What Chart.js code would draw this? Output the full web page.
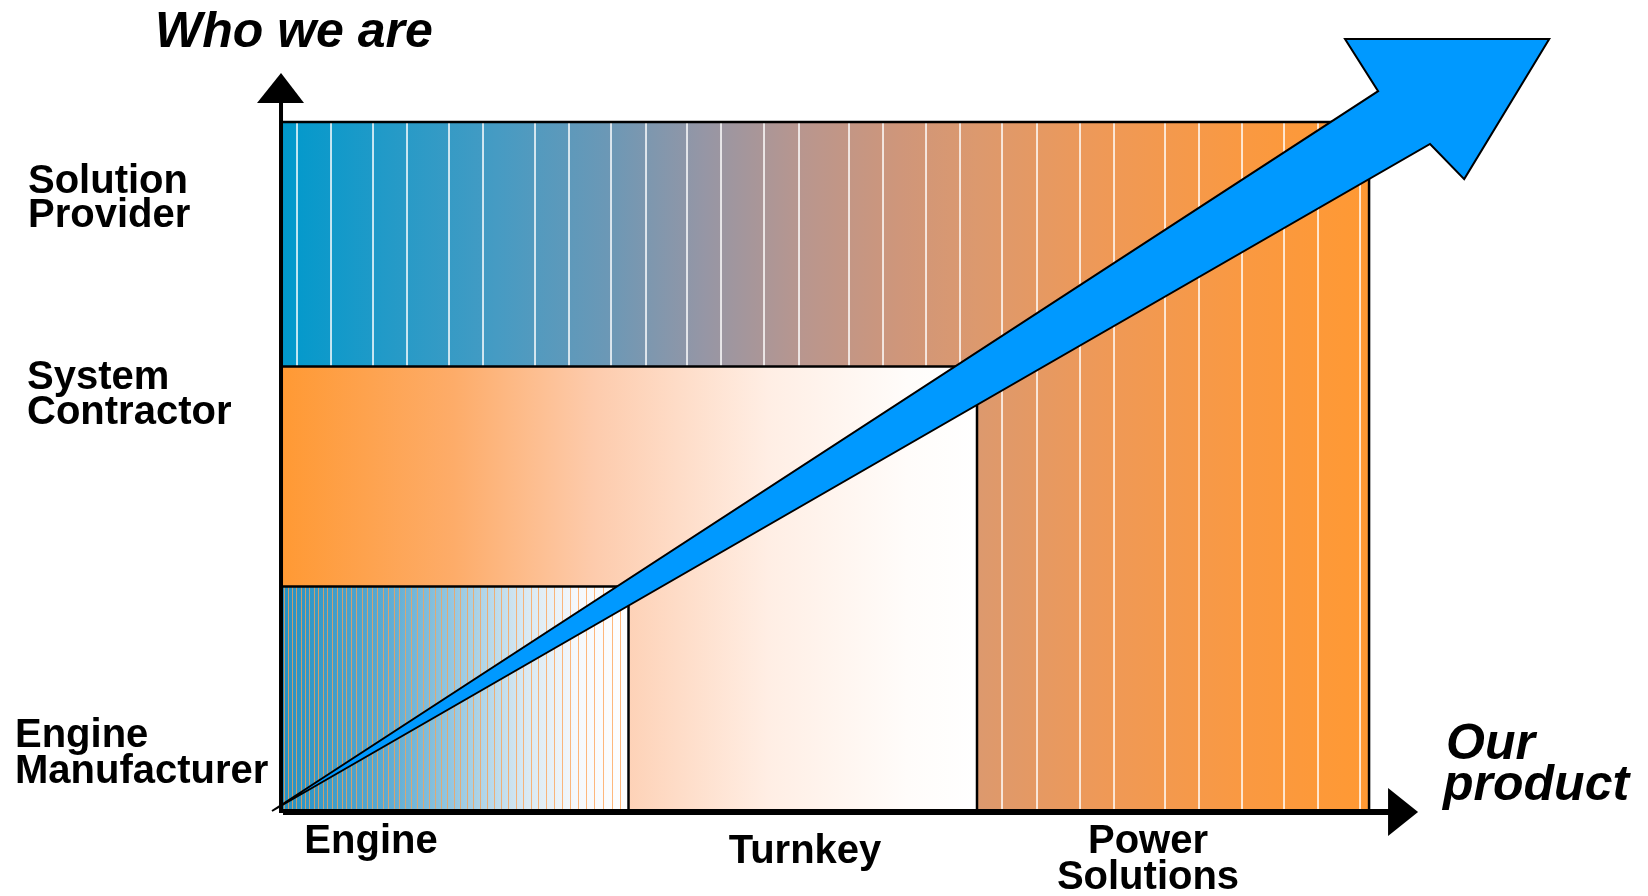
<!DOCTYPE html>
<html>
<head>
<meta charset="utf-8">
<title>Who we are / Our product</title>
<script src="https://cdn.jsdelivr.net/npm/chart.js@4.4.1/dist/chart.umd.min.js"></script>
<style>
  html, body { margin: 0; padding: 0; background: #ffffff; overflow: hidden; }
  canvas { display: block; }
</style>
</head>
<body>
<canvas id="growth" width="1648" height="896"></canvas>
<script>
// ---- Data -----------------------------------------------------------------
// Product offering along the horizontal axis, and how far each one reaches.
const productLabels = [['Engine'], ['Turnkey'], ['Power', 'Solutions']];
const productReach  = [1.0, 2.0, 3.125];

// Company role along the vertical axis, and how high each one reaches.
const roleLabels = [['Engine', 'Manufacturer'], ['System', 'Contractor'], ['Solution', 'Provider']];
const roleReach  = [1.01, 2.0, 3.1];

// Outline of the growth arrow, in axis units (tail -> shaft -> head -> shaft -> tail).
const growthX = [-0.023, 3.151, 3.056, 3.642, 3.398, 3.300, -0.023];
const growthY = [0.0,    3.239, 3.473, 3.473, 2.843, 3.001,  0.0];

const axisTitleY = ['Who we are'];
const axisTitleX = ['Our', 'product'];

// ---- Layout & style -------------------------------------------------------
const VIEW = { xMin: -0.8035, xMax: 3.9254, yMin: -0.3824, yMax: 3.6489 };

const FONT_LABEL = 'bold 40px "Liberation Sans", Arial, sans-serif';
const FONT_TITLE = 'italic bold 50px "Liberation Sans", Arial, sans-serif';

// Text anchors (pixels): role labels left-aligned, product labels centred.
const roleTextPos = [
  { x: 15, y: [747, 783] },
  { x: 27, y: [389, 424] },
  { x: 28, y: [193, 227] }
];
const productTextPos = [
  { x: 371,  y: [853] },
  { x: 805,  y: [863] },
  { x: 1148, y: [853, 889] }
];

// Banding of the outer gradient: offsets (px) from the left edge of the box.
const bandOffsets = [17, 51, 93, 127, 169, 203, 255, 289, 331, 366, 407, 441, 484, 519,
                     569, 603, 646, 680, 722, 757, 800, 834, 885, 919, 962, 1004, 1038, 1080];

const outerStops = [
  [0.00, 'rgb(0,153,204)'],
  [0.20, 'rgb(70,155,195)'],
  [0.30, 'rgb(107,152,182)'],
  [0.39, 'rgb(150,150,165)'],
  [0.48, 'rgb(185,150,142)'],
  [0.57, 'rgb(207,150,122)'],
  [0.64, 'rgb(220,153,110)'],
  [0.75, 'rgb(238,153,88)'],
  [0.89, 'rgb(250,153,65)'],
  [1.00, 'rgb(255,153,51)']
];
const middleStops = [
  [0.00, 'rgb(255,153,51)'],
  [0.25, 'rgb(253,172,105)'],
  [0.45, 'rgb(253,203,172)'],
  [0.70, 'rgb(255,238,228)'],
  [0.90, 'rgb(255,252,250)'],
  [1.00, 'rgb(255,255,255)']
];
const innerStops = [
  [0.00, 'rgb(35,145,195)'],
  [0.30, 'rgb(90,170,210)'],
  [0.50, 'rgb(150,200,225)'],
  [0.70, 'rgb(215,232,242)'],
  [0.85, 'rgb(245,248,252)'],
  [1.00, 'rgb(255,255,255)']
];
const roleStops = [innerStops, middleStops, outerStops];

function gradient(ctx, x0, x1, stops) {
  const g = ctx.createLinearGradient(x0, 0, x1, 0);
  stops.forEach(([t, c]) => g.addColorStop(t, c));
  return g;
}

function roleRect(chart, i) {
  const xs = chart.scales.x, ys = chart.scales.y;
  return {
    left: xs.getPixelForValue(0),
    right: xs.getPixelForValue(productReach[i]),
    top: ys.getPixelForValue(roleReach[i]),
    bottom: ys.getPixelForValue(0)
  };
}

// Role boxes, their shading and the two axes, drawn beneath the arrow.
const roleBoxes = {
  id: 'roleBoxes',
  beforeDatasetsDraw(chart) {
    const ctx = chart.ctx;
    ctx.save();
    // widest role first so the narrower ones sit on top
    for (let i = roleReach.length - 1; i >= 0; i--) {
      const r = roleRect(chart, i);
      ctx.fillStyle = gradient(ctx, r.left, r.right, roleStops[i]);
      ctx.fillRect(r.left, r.top, r.right - r.left, r.bottom - r.top);

      if (i === 2) {
        ctx.strokeStyle = '#ffffff';
        ctx.lineWidth = 1.5;
        bandOffsets.forEach(o => {
          const x = r.left + o;
          ctx.beginPath();
          ctx.moveTo(x, r.top);
          ctx.lineTo(x, r.bottom);
          ctx.stroke();
        });
      }
      if (i === 0) {
        ctx.strokeStyle = 'rgba(255,160,80,0.75)';
        ctx.lineWidth = 1;
        const w = r.right - r.left;
        let x = r.left + 4;
        while (x < r.right - 3) {
          ctx.beginPath();
          ctx.moveTo(Math.round(x) + 0.5, r.top);
          ctx.lineTo(Math.round(x) + 0.5, r.bottom);
          ctx.stroke();
          x += 4 + 5 * ((x - r.left) / w);
        }
      }
    }
    // box outlines (top and right edges; the axes close the others)
    ctx.strokeStyle = '#000000';
    ctx.lineWidth = 2.5;
    for (let i = 0; i < roleReach.length; i++) {
      const r = roleRect(chart, i);
      ctx.beginPath();
      ctx.moveTo(r.left, r.top);
      ctx.lineTo(r.right, r.top);
      ctx.lineTo(r.right, r.bottom);
      ctx.stroke();
    }

    // axes
    const o = roleRect(chart, 2);
    ctx.fillStyle = '#000000';
    // vertical axis
    ctx.lineWidth = 4;
    ctx.beginPath();
    ctx.moveTo(o.left + 1, o.bottom + 2);
    ctx.lineTo(o.left + 1, o.top - 20);
    ctx.stroke();
    ctx.beginPath();
    ctx.moveTo(o.left - 23, o.top - 19);
    ctx.lineTo(o.left + 24, o.top - 19);
    ctx.lineTo(o.left + 1, o.top - 49);
    ctx.closePath();
    ctx.fill();
    // horizontal axis
    ctx.lineWidth = 6;
    ctx.beginPath();
    ctx.moveTo(o.left + 3, o.bottom + 1);
    ctx.lineTo(o.right + 22, o.bottom + 1);
    ctx.stroke();
    ctx.beginPath();
    ctx.moveTo(o.right + 19, o.bottom - 23);
    ctx.lineTo(o.right + 19, o.bottom + 25);
    ctx.lineTo(o.right + 49, o.bottom + 1);
    ctx.closePath();
    ctx.fill();
    ctx.restore();
  }
};

// Category labels and axis titles.
const labelText = {
  id: 'labelText',
  afterDraw(chart) {
    const ctx = chart.ctx;
    ctx.save();
    ctx.fillStyle = '#000000';
    ctx.textBaseline = 'alphabetic';

    ctx.font = FONT_LABEL;
    ctx.textAlign = 'left';
    roleLabels.forEach((lines, i) => {
      lines.forEach((t, k) => ctx.fillText(t, roleTextPos[i].x, roleTextPos[i].y[k]));
    });
    ctx.textAlign = 'center';
    productLabels.forEach((lines, i) => {
      lines.forEach((t, k) => ctx.fillText(t, productTextPos[i].x, productTextPos[i].y[k]));
    });

    ctx.font = FONT_TITLE;
    ctx.textAlign = 'left';
    ctx.fillText(axisTitleY[0], 155, 47);
    ctx.fillText(axisTitleX[0], 1446, 759);
    ctx.fillText(axisTitleX[1], 1443, 800);
    ctx.restore();
  }
};

const arrowPoints = growthX.map((x, i) => ({ x, y: growthY[i] }));

new Chart(document.getElementById('growth'), {
  type: 'line',
  data: {
    datasets: [{
      label: 'Growth',
      data: arrowPoints,
      parsing: false,
      fill: 'shape',
      backgroundColor: '#0099ff',
      borderColor: '#000000',
      borderWidth: 2,
      borderJoinStyle: 'miter',
      pointRadius: 0,
      tension: 0,
      clip: false
    }]
  },
  options: {
    responsive: false,
    devicePixelRatio: 1,
    animation: false,
    layout: { padding: 0 },
    plugins: { legend: { display: false }, tooltip: { enabled: false }, title: { display: false } },
    scales: {
      x: { type: 'linear', display: false, min: VIEW.xMin, max: VIEW.xMax },
      y: { type: 'linear', display: false, min: VIEW.yMin, max: VIEW.yMax }
    }
  },
  plugins: [roleBoxes, labelText]
});
</script>
</body>
</html>
